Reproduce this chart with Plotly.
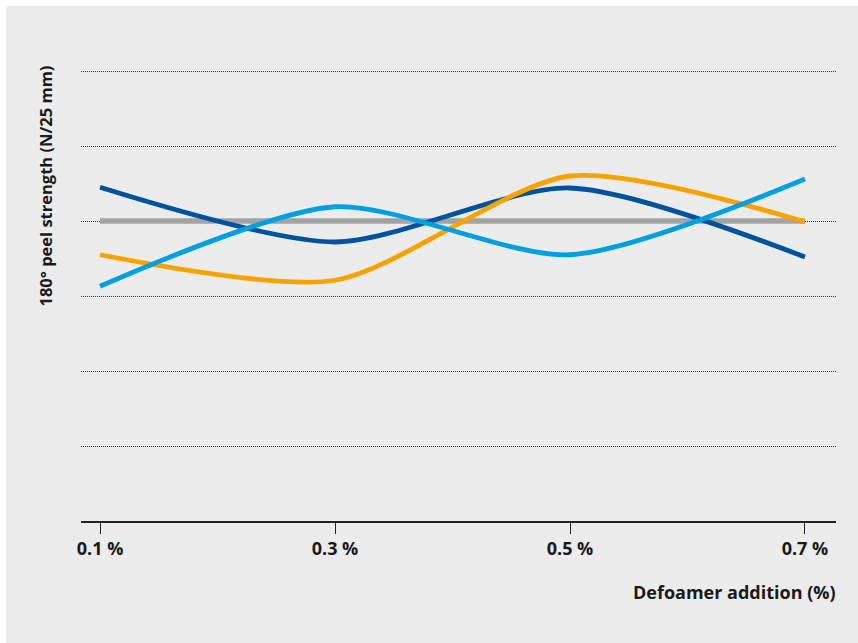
import plotly.graph_objects as go

x_vals = [0.1, 0.3, 0.5, 0.7]
tick_labels = ["0.1 %", "0.3 %", "0.5 %", "0.7 %"]

reference = [4.0, 4.0, 4.0, 4.0]
dark_blue = [4.45, 3.72, 4.44, 3.52]
orange = [3.55, 3.21, 4.60, 3.99]
light_blue = [3.13, 4.19, 3.55, 4.56]

series = [
    ("Reference", reference, "#a3a3a3", 5.5),
    ("Series A", dark_blue, "#00549f", 4.8),
    ("Series B", orange, "#f8a300", 4.8),
    ("Series C", light_blue, "#00a0e3", 4.8),
]

fig = go.Figure()
for name, vals, color, w in series:
    fig.add_trace(go.Scatter(
        x=x_vals, y=vals, mode="lines", name=name,
        line=dict(color=color, width=w, shape="spline", smoothing=0.75),
        hoverinfo="skip",
    ))

# figure is placed 6px from top/left of the page (white border)
OFF = 6
W, H = 858 - OFF, 643 - OFF
L, R, T, B = 75, 22, 59, 122
pw, ph = W - L - R, H - T - B

def px_x(p):
    return (p - OFF - L) / pw

def px_y(p):
    return (H - B - (p - OFF)) / ph

bg = "#ebeceb"
font_family = "Open Sans, sans-serif"

fig.update_layout(
    width=W, height=H,
    margin=dict(l=L, r=R, t=T, b=B),
    paper_bgcolor=bg, plot_bgcolor=bg,
    showlegend=False,
    font=dict(family=font_family, color="#1a1a1a"),
    xaxis=dict(
        range=[0.0838, 0.7264],
        tickvals=x_vals, ticktext=tick_labels,
        showgrid=False, zeroline=False,
        showline=True, linecolor="#222222", linewidth=1.5,
        ticks="outside", ticklen=11, tickwidth=1, tickcolor="#222222",
        tickfont=dict(size=18, family=font_family, weight="bold", color="#1a1a1a"),
        fixedrange=True,
    ),
    yaxis=dict(
        range=[0, 6.08],
        tickvals=[0, 1, 2, 3, 4, 5, 6],
        showticklabels=False,
        showgrid=True, gridcolor="#333333", gridwidth=1, griddash="1px,1px",
        zeroline=False, showline=False, ticks="",
        fixedrange=True,
    ),
    annotations=[
        dict(text="Defoamer addition (%)", xref="paper", yref="paper",
             x=px_x(838), y=px_y(592), xanchor="right", yanchor="middle",
             showarrow=False,
             font=dict(size=18, family=font_family, weight="bold", color="#1a1a1a")),
        dict(text="180° peel strength (N/25 mm)", xref="paper", yref="paper",
             x=px_x(45), y=px_y(186.5), xanchor="center", yanchor="middle",
             textangle=-90, showarrow=False,
             font=dict(size=16.5, family=font_family, weight="bold", color="#1a1a1a")),
    ],
)

fig.write_html(
    "out.html",
    post_script="document.body.style.margin='6px 0 0 6px';document.body.style.background='white';document.body.style.overflow='hidden';",
)
